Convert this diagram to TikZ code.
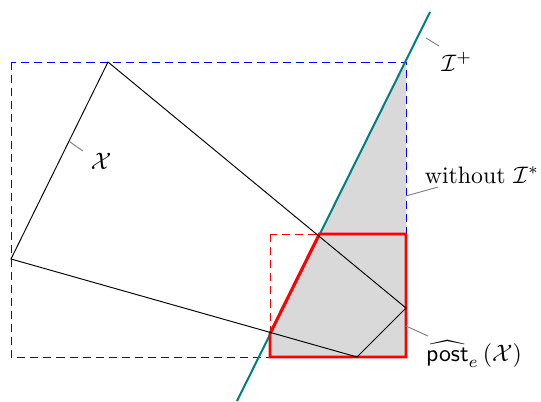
\documentclass[tikz,border=0pt]{standalone}
\usepackage{amsmath}
\begin{document}
\begin{tikzpicture}[x=0.42pt,y=-0.42pt,
  bluedash/.style={blue,thin,dash pattern=on 3.4pt off 2.1pt},
  reddash/.style={red,thin,dash pattern=on 3.4pt off 2.1pt},
  polyline/.style={black,thin,line join=miter},
  redbound/.style={red,line width=1.25pt,line join=miter},
  tealline/.style={teal,line width=0.85pt},
  pinline/.style={gray,thin},
  lbl/.style={inner sep=1pt}]
\useasboundingbox (0,0) rectangle (541,401);
% key points
\coordinate (A) at (108,62);
\coordinate (B) at (406,308);
\coordinate (C) at (357,357);
\coordinate (D) at (11,259);
\coordinate (TL) at (11,62);
\coordinate (TR) at (406,62);
\coordinate (BR) at (406,357);
\coordinate (BL) at (11,357);
\coordinate (RTL) at (270,234);
\coordinate (RTR) at (406,234);
\coordinate (RBL) at (270,357);
\coordinate (RTop) at (319.3,234);
\coordinate (RLeft) at (270,333.5);
\coordinate (Tbot) at (237,401);
\coordinate (Ttop) at (430,12);
% shaded region
\fill[black!15] (TR) -- (BR) -- (RBL) -- (RLeft) -- cycle;
% boxes
\draw[bluedash] (TL) rectangle (BR);
\draw[reddash] (RTL) rectangle (BR);
% teal line
\draw[tealline] (Tbot) -- (Ttop);
% red boundary
\draw[redbound] (RBL) -- (BR) -- (RTR) -- (RTop) -- (RLeft) -- cycle;
% polygon X
\draw[polyline] (A) -- (B) -- (C) -- (D) -- cycle;
% labels
\node[lbl] (lI) at (457,62) {$\mathcal{I}^+$};
\node[lbl] (lW) at (482,175) {without $\mathcal{I}^*$};
\node[lbl] (lX) at (101,161) {$\mathcal{X}$};
\node[lbl] (lP) at (474,354) {$\widehat{\mathsf{post}}_e\,(\mathcal{X})$};
\coordinate (pI1) at (426,38); \coordinate (pI2) at (439,46);
\coordinate (pW1) at (406,196); \coordinate (pW2) at (438,187);
\coordinate (pX1) at (70,142); \coordinate (pX2) at (83,151);
\coordinate (pP1) at (406,326); \coordinate (pP2) at (428,336);
\draw[pinline] (pI1) -- (pI2);
\draw[pinline] (pW1) -- (pW2);
\draw[pinline] (pX1) -- (pX2);
\draw[pinline] (pP1) -- (pP2);
\end{tikzpicture}
\end{document}
